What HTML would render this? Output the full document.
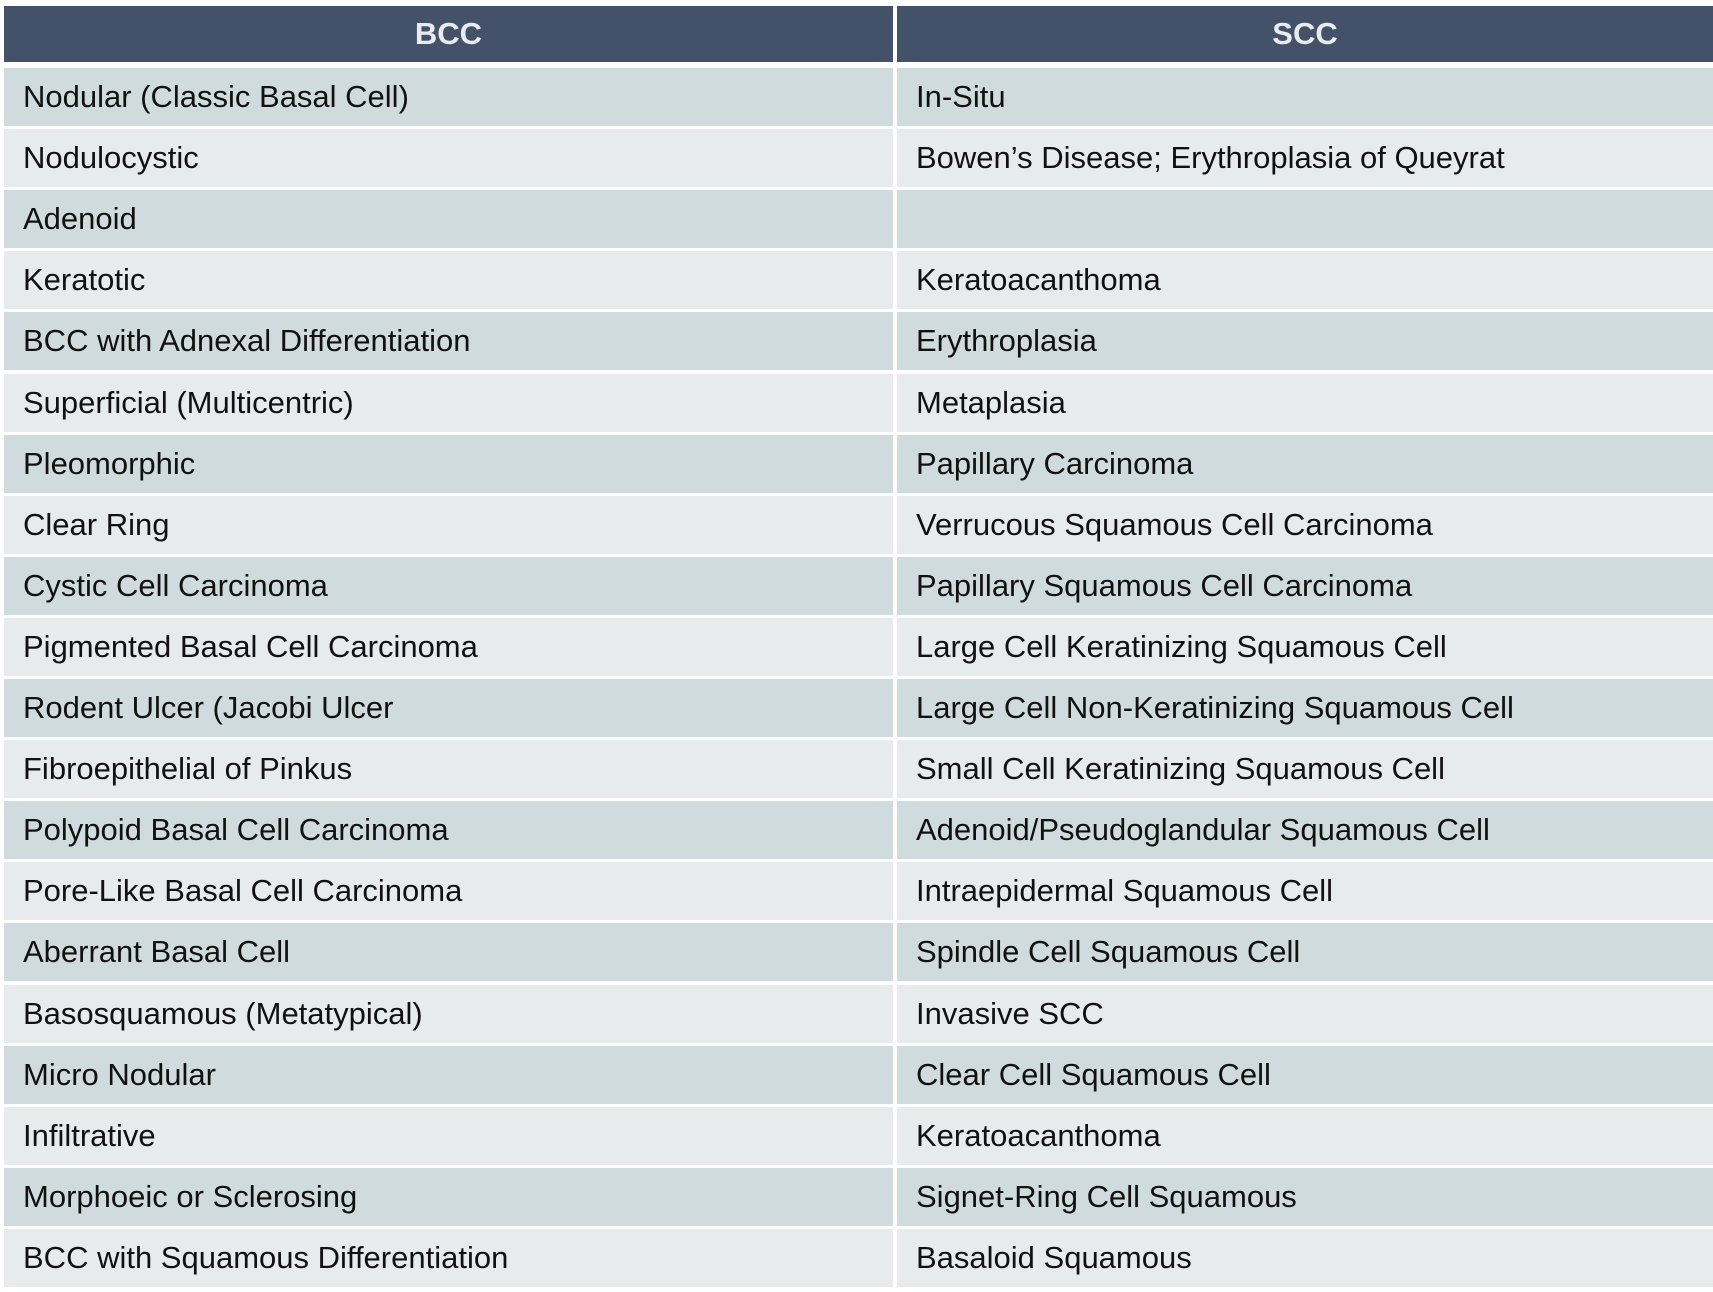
<!DOCTYPE html>
<html><head><meta charset="utf-8"><style>
html,body{margin:0;padding:0;background:#fff;width:1713px;height:1292px;overflow:hidden;font-family:"Liberation Sans",Arial,sans-serif;}
.wrap{position:relative;width:1713px;height:1292px;}
.hdr{position:absolute;top:6px;height:56px;background:#435169;color:#e8ebf0;font-weight:bold;font-size:31px;display:flex;align-items:center;justify-content:center;}
.cell{position:absolute;height:58px;display:flex;align-items:center;font-size:31px;color:#111;box-sizing:border-box;white-space:nowrap;}
.l{left:4px;width:889px;padding-left:19px;}
.r{left:897px;width:816px;padding-left:19px;}
.d{background:#cfdbdc;}
.w{background:#e8ebeb;}
</style></head><body>
<div class="wrap">
<div class="hdr" style="left:4px;width:889px">BCC</div>
<div class="hdr" style="left:897px;width:816px">SCC</div>
<div id="rows"></div>
</div>
<script>
const bcc=["Nodular (Classic Basal Cell)","Nodulocystic","Adenoid","Keratotic","BCC with Adnexal Differentiation","Superficial (Multicentric)","Pleomorphic","Clear Ring","Cystic Cell Carcinoma","Pigmented Basal Cell Carcinoma","Rodent Ulcer (Jacobi Ulcer","Fibroepithelial of Pinkus","Polypoid Basal Cell Carcinoma","Pore-Like Basal Cell Carcinoma","Aberrant Basal Cell","Basosquamous (Metatypical)","Micro Nodular","Infiltrative","Morphoeic or Sclerosing","BCC with Squamous Differentiation"];
const scc=["In-Situ","Bowen\u2019s Disease; Erythroplasia of Queyrat","","Keratoacanthoma","Erythroplasia","Metaplasia","Papillary Carcinoma","Verrucous Squamous Cell Carcinoma","Papillary Squamous Cell Carcinoma","Large Cell Keratinizing Squamous Cell","Large Cell Non-Keratinizing Squamous Cell","Small Cell Keratinizing Squamous Cell","Adenoid/Pseudoglandular Squamous Cell","Intraepidermal Squamous Cell","Spindle Cell Squamous Cell","Invasive SCC","Clear Cell Squamous Cell","Keratoacanthoma","Signet-Ring Cell Squamous","Basaloid Squamous"];
const host=document.getElementById('rows');
for(let i=0;i<bcc.length;i++){
  const top=68+i*61.1;
  const cls=i%2===0?'d':'w';
  const a=document.createElement('div');
  a.className='cell l '+cls;a.style.top=top+'px';a.textContent=bcc[i];
  
  
  host.appendChild(a);
  const b=document.createElement('div');
  b.className='cell r '+cls;b.style.top=top+'px';b.textContent=scc[i];
  
  
  host.appendChild(b);
}
</script>
</body></html>
